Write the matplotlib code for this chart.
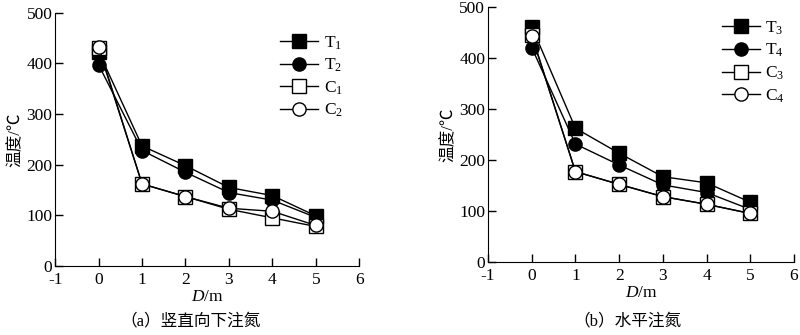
import numpy as np
import matplotlib.pyplot as plt

plt.rcParams['font.family'] = ['Liberation Serif', 'Noto Sans CJK SC']
plt.rcParams['mathtext.fontset'] = 'custom'
plt.rcParams['mathtext.rm'] = 'Liberation Serif'
plt.rcParams['mathtext.it'] = 'Liberation Serif:italic'
plt.rcParams['axes.unicode_minus'] = False

# 测点距离
D = [0, 1, 2, 3, 4, 5]

# (a) 竖直向下注氮
T1 = [423, 237, 198, 155, 139, 99]
T2 = [397, 228, 185, 145, 130, 96]
C1 = [430, 162, 137, 112, 95, 78]
C2 = [433, 162, 137, 114, 108, 80]

# (b) 水平注氮
T3 = [461, 262, 213, 167, 155, 117]
T4 = [420, 231, 190, 151, 136, 103]
C3 = [445, 177, 152, 128, 113, 95]
C4 = [443, 177, 152, 128, 113, 95]

xticks = [-1, 0, 1, 2, 3, 4, 5, 6]
yticks = [0, 100, 200, 300, 400, 500]

fig = plt.figure(figsize=(8, 3.35), dpi=100)
ax1 = fig.add_axes([0.069, 0.206, 0.380, 0.756])
ax2 = fig.add_axes([0.610, 0.218, 0.3825, 0.762])


def draw(ax, series, names, leg_pos, caption, cap_x):
    styles = [('s', 'black'), ('o', 'black'), ('s', 'white'), ('o', 'white')]
    for y, name, (m, fc) in zip(series, names, styles):
        ax.plot(D, y, color='black', lw=1.0, marker=m, ms=9.5,
                mfc=fc, mec='black', mew=1.0, label=name)
    ax.set_xlim(-1, 6)
    ax.set_ylim(0, 500)
    ax.set_xticks(xticks)
    ax.set_yticks(yticks)
    ax.spines['top'].set_visible(False)
    ax.spines['right'].set_visible(False)
    ax.tick_params(direction='in', length=6, width=1, labelsize=12.5)
    ax.tick_params(axis='x', pad=4)
    ax.tick_params(axis='y', pad=2)
    ax.set_xlabel('$D$/m', fontsize=12.5, labelpad=1)
    ax.set_ylabel('温度/℃', fontsize=12, labelpad=2)
    ax.legend(loc='upper left', bbox_to_anchor=leg_pos, frameon=False,
              fontsize=12.5, handlelength=2.2, handletextpad=0.3,
              labelspacing=0.3, borderpad=0, borderaxespad=0)
    fig.text(cap_x, 0.04, caption, ha='center', va='center', fontsize=12)


draw(ax1, [T1, T2, C1, C2], ['T$_1$', 'T$_2$', 'C$_1$', 'C$_2$'],
     (0.74, 0.915), '（a）竖直向下注氮', 0.238)
draw(ax2, [T3, T4, C3, C4], ['T$_3$', 'T$_4$', 'C$_3$', 'C$_4$'],
     (0.765, 0.95), '（b）水平注氮', 0.784)

fig.savefig('out.png', dpi=100)
